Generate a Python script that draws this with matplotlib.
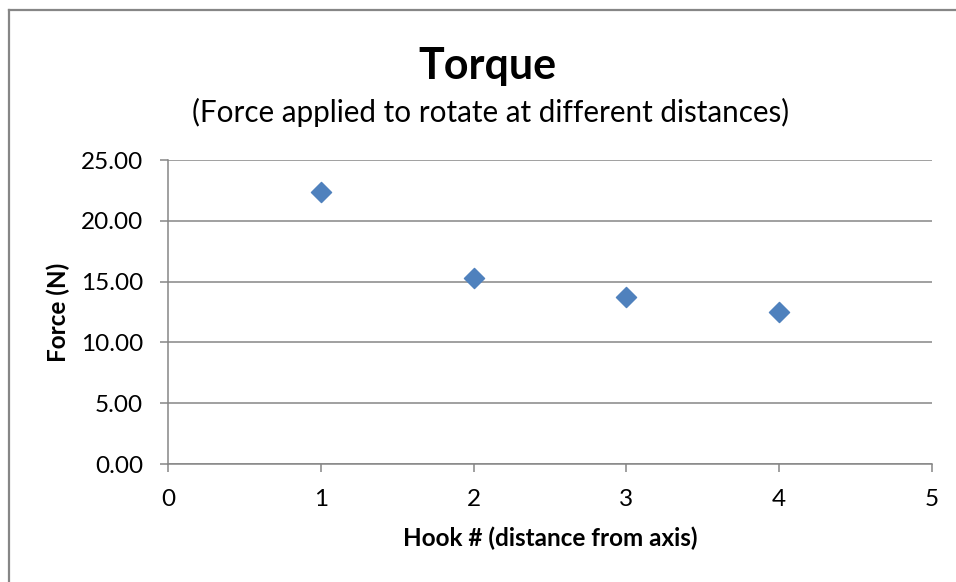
import matplotlib.pyplot as plt
from matplotlib.lines import Line2D

# Data
hooks = [1, 2, 3, 4]
forces = [22.34, 15.27, 13.71, 12.50]
x_ticks = [0, 1, 2, 3, 4, 5]
y_ticks = [0, 5, 10, 15, 20, 25]

plt.rcParams['font.family'] = ['Lato', 'DejaVu Sans']
grey = '#868686'

fig = plt.figure(figsize=(9.56, 5.82), dpi=100)
ax = fig.add_axes([0.1757, 0.2027, 0.7992, 0.5223])

ax.scatter(hooks, forces, marker='D', s=105, color='#4F81BD', zorder=3)

ax.set_xlim(0, 5)
ax.set_ylim(0, 25)
ax.set_xticks(x_ticks)
ax.set_yticks(y_ticks)
ax.set_yticklabels([f'{v:.2f}' for v in y_ticks])
ax.yaxis.grid(True, color=grey, linewidth=1.1)
ax.set_axisbelow(True)

for side in ['top', 'right']:
    ax.spines[side].set_visible(False)
for side in ['left', 'bottom']:
    ax.spines[side].set_color(grey)
    ax.spines[side].set_linewidth(1.1)
ax.tick_params(axis='both', colors=grey, width=1.1, length=5.8, labelsize=17.5,
               labelcolor='black')
ax.tick_params(axis='x', pad=12)
ax.tick_params(axis='y', pad=12)

ax.set_xlabel('Hook # (distance from axis)', fontsize=17.5, fontweight='bold')
ax.xaxis.set_label_coords(0.5, -0.207)
ax.set_ylabel('Force (N)', fontsize=17.5, fontweight='bold')
ax.yaxis.set_label_coords(-0.128, 0.5)

fig.text(0.510, 0.886, 'Torque', ha='center', va='center', fontsize=31, fontweight='bold')
fig.text(0.513, 0.807, '(Force applied to rotate at different distances)',
         ha='center', va='center', fontsize=21.3)

# Outer chart border (only left and top show in the crop)
fig.add_artist(Line2D([0.009, 0.009], [0, 0.982], color=grey, linewidth=1.6,
                      transform=fig.transFigure))
fig.add_artist(Line2D([0.009, 1.01], [0.982, 0.982], color=grey, linewidth=1.6,
                      transform=fig.transFigure))

fig.savefig('out.png', dpi=100)
